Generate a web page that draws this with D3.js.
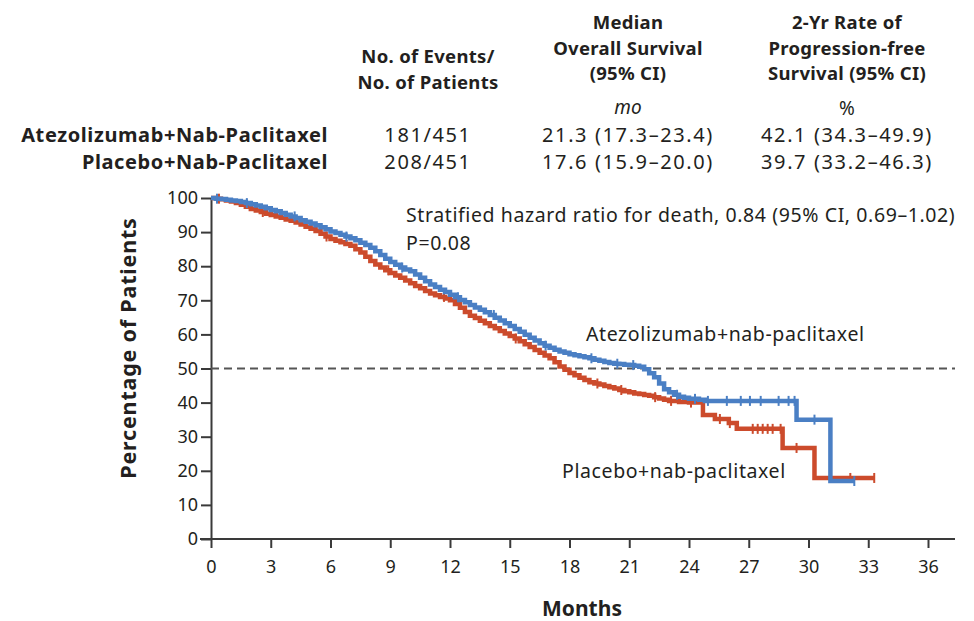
<!DOCTYPE html>
<html>
<head>
<meta charset="utf-8">
<script src="https://cdn.jsdelivr.net/npm/d3@7"></script>
<style>
  body { margin: 0; background: #fff; }
  svg text { font-family: "Noto Sans", "DejaVu Sans Condensed", sans-serif; fill: #231f20; }
</style>
</head>
<body>
<div id="chart"></div>
<script>
// ---- data ----
var arms = ["Atezolizumab+Nab-Paclitaxel", "Placebo+Nab-Paclitaxel"];
var events = ["181/451", "208/451"];
var medianOS = ["21.3 (17.3\u201323.4)", "17.6 (15.9\u201320.0)"];
var pfs2yr = ["42.1 (34.3\u201349.9)", "39.7 (33.2\u201346.3)"];

// atezolizumab arm, months and percent surviving
var atezoTime = [0, 0.25, 0.5, 0.75, 1, 1.25, 1.5, 1.75, 2, 2.25, 2.5, 2.75, 3, 3.25, 3.5, 3.75, 4, 4.25, 4.5, 4.75,
  5, 5.25, 5.5, 5.75, 6, 6.25, 6.5, 6.75, 7, 7.25, 7.5, 7.75, 8, 8.25, 8.5, 8.75, 9, 9.25, 9.5, 9.75,
  10, 10.25, 10.5, 10.75, 11, 11.25, 11.5, 11.75, 12, 12.25, 12.5, 12.75, 13, 13.25, 13.5, 13.75, 14, 14.25, 14.5, 14.75,
  15, 15.25, 15.5, 15.75, 16, 16.25, 16.5, 16.75, 17, 17.25, 17.5, 17.75, 18, 18.25, 18.5, 18.75, 19, 19.25, 19.5, 19.75,
  20, 20.25, 20.5, 20.75, 21, 21.25, 21.5, 21.75, 22, 22.25, 22.5, 22.75, 23, 23.25, 23.5, 23.75, 24, 24.5, 24.8,
  29.4, 31.1, 32.3];
var atezoSurv = [100, 99.8, 99.7, 99.5, 99.3, 99.1, 98.8, 98.5, 98.2, 97.8, 97.4, 97.0, 96.5, 96.1, 95.6, 95.1, 94.6, 94.1, 93.5, 93.0,
  92.5, 92.0, 91.4, 90.8, 90.2, 89.7, 89.2, 88.7, 88.2, 87.6, 86.9, 86.2, 85.4, 84.4, 83.3, 82.2, 81.2, 80.4, 79.6, 79.0,
  78.5, 77.6, 76.6, 75.6, 74.6, 73.9, 73.1, 72.4, 71.6, 70.9, 70.1, 69.4, 68.6, 67.9, 67.2, 66.5, 65.7, 64.9, 64.1, 63.3,
  62.5, 61.6, 60.8, 59.9, 59.0, 58.2, 57.4, 56.7, 56.1, 55.5, 55.0, 54.6, 54.2, 53.9, 53.6, 53.3, 53.0, 52.6, 52.3, 51.9,
  51.6, 51.4, 51.3, 51.1, 51.0, 50.8, 50.5, 49.8, 48.6, 47.4, 45.6, 43.9, 43.0, 42.3, 41.7, 41.4, 41.1, 40.8, 40.5,
  35.0, 17.0, 17.0];
var atezoCensor = [0.3, 1.8, 4.2, 6.8, 9.6, 12.4, 14.2, 16.8, 19.1, 20.4, 21.2, 23.4, 24.3, 24.95, 25.9, 26.6, 27.06, 27.6, 28.5, 29.0, 29.3, 30.3, 32.3];

// placebo arm
var placeboTime = [0, 0.25, 0.5, 0.75, 1, 1.25, 1.5, 1.75, 2, 2.25, 2.5, 2.75, 3, 3.25, 3.5, 3.75, 4, 4.25, 4.5, 4.75,
  5, 5.25, 5.5, 5.75, 6, 6.25, 6.5, 6.75, 7, 7.25, 7.5, 7.75, 8, 8.25, 8.5, 8.75, 9, 9.25, 9.5, 9.75,
  10, 10.25, 10.5, 10.75, 11, 11.25, 11.5, 11.75, 12, 12.25, 12.5, 12.75, 13, 13.25, 13.5, 13.75, 14, 14.25, 14.5, 14.75,
  15, 15.25, 15.5, 15.75, 16, 16.25, 16.5, 16.75, 17, 17.25, 17.5, 17.75, 18, 18.25, 18.5, 18.75, 19, 19.25, 19.5, 19.75,
  20, 20.25, 20.5, 20.75, 21, 21.25, 21.5, 21.75, 22, 22.25, 22.5, 22.75, 23, 23.5, 24,
  24.7, 25.3, 26.0, 26.4, 28.7, 30.3, 33.3];
var placeboSurv = [100, 99.8, 99.6, 99.3, 99.0, 98.5, 98.0, 97.4, 96.8, 96.3, 95.9, 95.4, 95.0, 94.6, 94.2, 93.7, 93.3, 92.8, 92.2, 91.6,
  91.0, 90.3, 89.5, 88.7, 88.0, 87.5, 87.0, 86.5, 86.0, 85.0, 84.0, 82.8, 81.5, 80.5, 79.6, 78.8, 78.0, 77.3, 76.6, 75.8,
  75.0, 74.2, 73.5, 72.7, 72.0, 71.5, 71.0, 70.5, 70.0, 68.9, 67.8, 66.6, 65.5, 64.8, 64.0, 63.3, 62.5, 61.8, 61.0, 60.3,
  59.5, 58.8, 58.0, 57.1, 56.3, 55.4, 54.6, 53.8, 53.0, 51.8, 50.6, 49.6, 48.7, 48.0, 47.3, 46.6, 46.0, 45.6, 45.3, 44.9,
  44.5, 44.1, 43.7, 43.3, 43.0, 42.7, 42.5, 42.2, 42.0, 41.6, 41.2, 40.8, 40.5, 40.2, 40.0,
  36.4, 35.2, 34.0, 32.3, 26.7, 17.9, 17.9];
var placeboCensor = [0.4, 2.6, 5.8, 8.9, 11.7, 15.3, 19.4, 20.6, 22.3, 23.1, 24.1, 25.55, 26.05, 27.2, 27.45, 27.7, 27.95, 28.2, 28.6, 29.4, 32.1, 33.3];

var xTicks = [0, 3, 6, 9, 12, 15, 18, 21, 24, 27, 30, 33, 36];
var yTicks = [0, 10, 20, 30, 40, 50, 60, 70, 80, 90, 100];

var blue = "#4a7fc4", red = "#cc4b2c", ink = "#3a3a3a";

var W = 974, H = 621;
var margin = {top: 198, left: 211, bottom: 82};
var svg = d3.select("#chart").append("svg").attr("width", W).attr("height", H);

var x = d3.scaleLinear().domain([0, 36]).range([margin.left, margin.left + 717]);
var y = d3.scaleLinear().domain([0, 100]).range([H - margin.bottom, margin.top]);

// ---- header table ----
var cols = [428, 628, 847];
var head = svg.append("g").attr("font-weight", "bold").attr("font-size", 18.5)
  .attr("letter-spacing", 0.3).attr("text-anchor", "middle");
function headLines(cx, lines, y0) {
  lines.forEach(function(t, i) {
    head.append("text").attr("x", cx).attr("y", y0 + i * 25.5).text(t);
  });
}
headLines(cols[0], ["No. of Events/", "No. of Patients"], 63);
headLines(cols[1], ["Median", "Overall Survival", "(95% CI)"], 29);
headLines(cols[2], ["2-Yr Rate of", "Progression-free", "Survival (95% CI)"], 29);

svg.append("text").attr("x", cols[1]).attr("y", 114).attr("text-anchor", "middle")
  .attr("font-size", 19).attr("font-style", "italic").text("mo");
svg.append("text").attr("x", cols[2]).attr("y", 115).attr("text-anchor", "middle")
  .attr("font-size", 19).text("%");

arms.forEach(function(a, i) {
  var yy = 142 + i * 27;
  svg.append("text").attr("x", 328).attr("y", yy).attr("text-anchor", "end")
    .attr("font-size", 20).attr("letter-spacing", 0.6).attr("font-weight", "bold").text(a);
  [events[i], medianOS[i], pfs2yr[i]].forEach(function(v, j) {
    svg.append("text").attr("x", cols[j]).attr("y", yy).attr("text-anchor", "middle")
      .attr("font-size", 20).attr("letter-spacing", 1.6).text(v);
  });
});

// ---- axes ----
var gx = svg.append("g").attr("transform", "translate(0," + y(0) + ")")
  .call(d3.axisBottom(x).tickValues(xTicks).tickSize(9).tickSizeOuter(0).tickPadding(12));
gx.select(".domain").remove();
gx.append("line").attr("x1", 200).attr("x2", 955).attr("stroke", ink).attr("stroke-width", 2);
gx.selectAll(".tick line").attr("stroke", ink).attr("stroke-width", 2);
gx.selectAll(".tick text").attr("font-size", 18).attr("fill", "#333")
  .style("font-family", "\"Noto Sans\", sans-serif");

var gy = svg.append("g").attr("transform", "translate(" + x(0) + ",0)")
  .call(d3.axisLeft(y).tickValues(yTicks).tickSize(10).tickSizeOuter(0).tickPadding(3));
gy.select(".domain").attr("stroke", ink).attr("stroke-width", 2);
gy.selectAll(".tick line").attr("stroke", ink).attr("stroke-width", 2);
gy.selectAll(".tick text").attr("font-size", 18).attr("fill", "#333")
  .style("font-family", "\"Noto Sans\", sans-serif");

// median line
svg.append("line").attr("x1", x(0)).attr("x2", 955).attr("y1", y(50)).attr("y2", y(50))
  .attr("stroke", "#555").attr("stroke-width", 2).attr("stroke-dasharray", "8,5");

svg.append("text").attr("x", 582).attr("y", 616).attr("text-anchor", "middle")
  .attr("font-size", 21).attr("font-weight", "bold").text("Months");
svg.append("text").attr("transform", "translate(136,348) rotate(-90)").attr("text-anchor", "middle")
  .attr("font-size", 21.5).attr("letter-spacing", 0.8).attr("font-weight", "bold").text("Percentage of Patients");

// ---- curves ----
var line = d3.line().curve(d3.curveStepAfter)
  .x(function(d) { return x(d[0]); }).y(function(d) { return y(d[1]); });

function survAt(times, surv, t) {
  var v = surv[0];
  for (var i = 0; i < times.length; i++) { if (times[i] <= t) v = surv[i]; }
  return v;
}

function drawArm(times, surv, censor, color) {
  var pts = times.map(function(t, i) { return [t, surv[i]]; });
  svg.append("path").attr("d", line(pts)).attr("fill", "none")
    .attr("stroke", color).attr("stroke-width", 4.5).attr("stroke-linejoin", "miter");
  svg.append("g").selectAll("line").data(censor).enter().append("line")
    .attr("x1", function(d) { return x(d); }).attr("x2", function(d) { return x(d); })
    .attr("y1", function(d) { return y(survAt(times, surv, d)) - 5; })
    .attr("y2", function(d) { return y(survAt(times, surv, d)) + 5; })
    .attr("stroke", color).attr("stroke-width", 2);
}
drawArm(placeboTime, placeboSurv, placeboCensor, red);
drawArm(atezoTime, atezoSurv, atezoCensor, blue);

// ---- annotations ----
var note = svg.append("g").attr("font-size", 19.5).attr("letter-spacing", 0.6).attr("fill", "#333");
note.append("text").attr("x", 406).attr("y", 222).text("Stratified hazard ratio for death, 0.84 (95% CI, 0.69\u20131.02)");
note.append("text").attr("x", 406).attr("y", 250).text("P=0.08");
note.append("text").attr("x", 586).attr("y", 341).text("Atezolizumab+nab-paclitaxel");
note.append("text").attr("x", 562).attr("y", 478).text("Placebo+nab-paclitaxel");
</script>
</body>
</html>
